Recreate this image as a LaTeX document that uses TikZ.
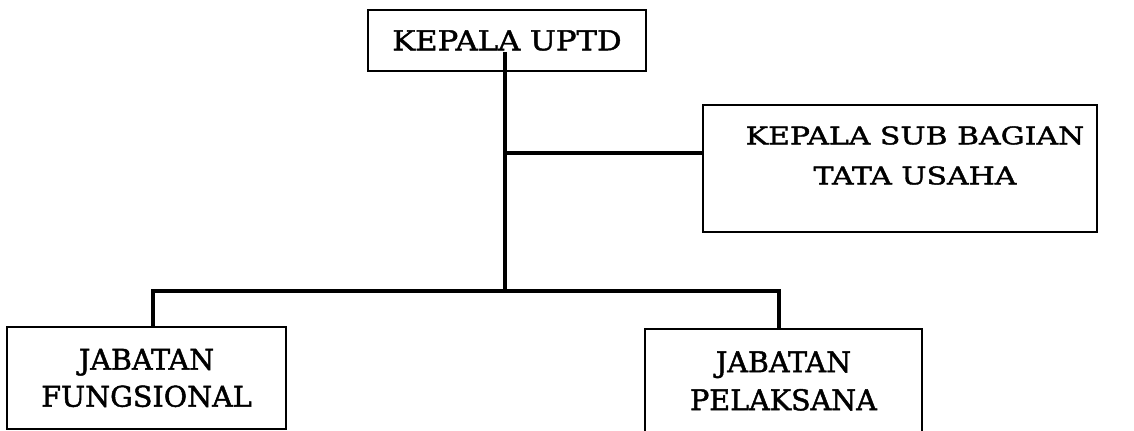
\documentclass[tikz,border=0pt]{standalone}
\usepackage{fontspec}
\setmainfont{DejaVu Serif}[FakeBold=1.6]
\newfontfamily\topfont{DejaVu Serif}[FakeStretch=1.12, FakeBold=1.6]
\newfontfamily\widefont{DejaVu Serif}[FakeStretch=1.23, FakeBold=1.6]
\usetikzlibrary{calc}

\begin{document}
\begin{tikzpicture}[
    x=0.025cm, y=-0.025cm,
    box/.style={draw, line width=2pt, inner sep=0pt, align=center},
    line/.style={line width=2.2pt}
]
\useasboundingbox (0,0) rectangle (1134,431);
\node[box, minimum width=278*0.025cm, minimum height=61*0.025cm, font=\topfont\fontsize{19.5}{24}\selectfont] (kepala) at (507,40.5) {KEPALA UPTD};
\node[box, minimum width=394*0.025cm, minimum height=127*0.025cm,
      label={[shift={(15,-13)}, align=center, font=\widefont\fontsize{17.3}{28.5}\selectfont]center:KEPALA SUB BAGIAN\\TATA USAHA}] (tu) at (900,168.5) {};
\node[box, minimum width=279*0.025cm, minimum height=102*0.025cm, font=\fontsize{20.3}{26.3}\selectfont] (fung) at (146.5,378) {JABATAN\\FUNGSIONAL};
\node[box, minimum width=277*0.025cm, minimum height=104*0.025cm, font=\fontsize{20.3}{27}\selectfont] (pel) at (783.5,381) {JABATAN\\PELAKSANA};
\coordinate (top) at (505,52);
\coordinate (tap) at (505,153);
\coordinate (hub) at (505,291);
\draw[line] (top) -- (hub);
\draw[line] (tap) -- (tap -| tu.west);
\draw[line] ($(fung.north)+(6.5,0)$) |- (hub) -| ($(pel.north)+(-4.5,0)$);
\end{tikzpicture}
\end{document}
